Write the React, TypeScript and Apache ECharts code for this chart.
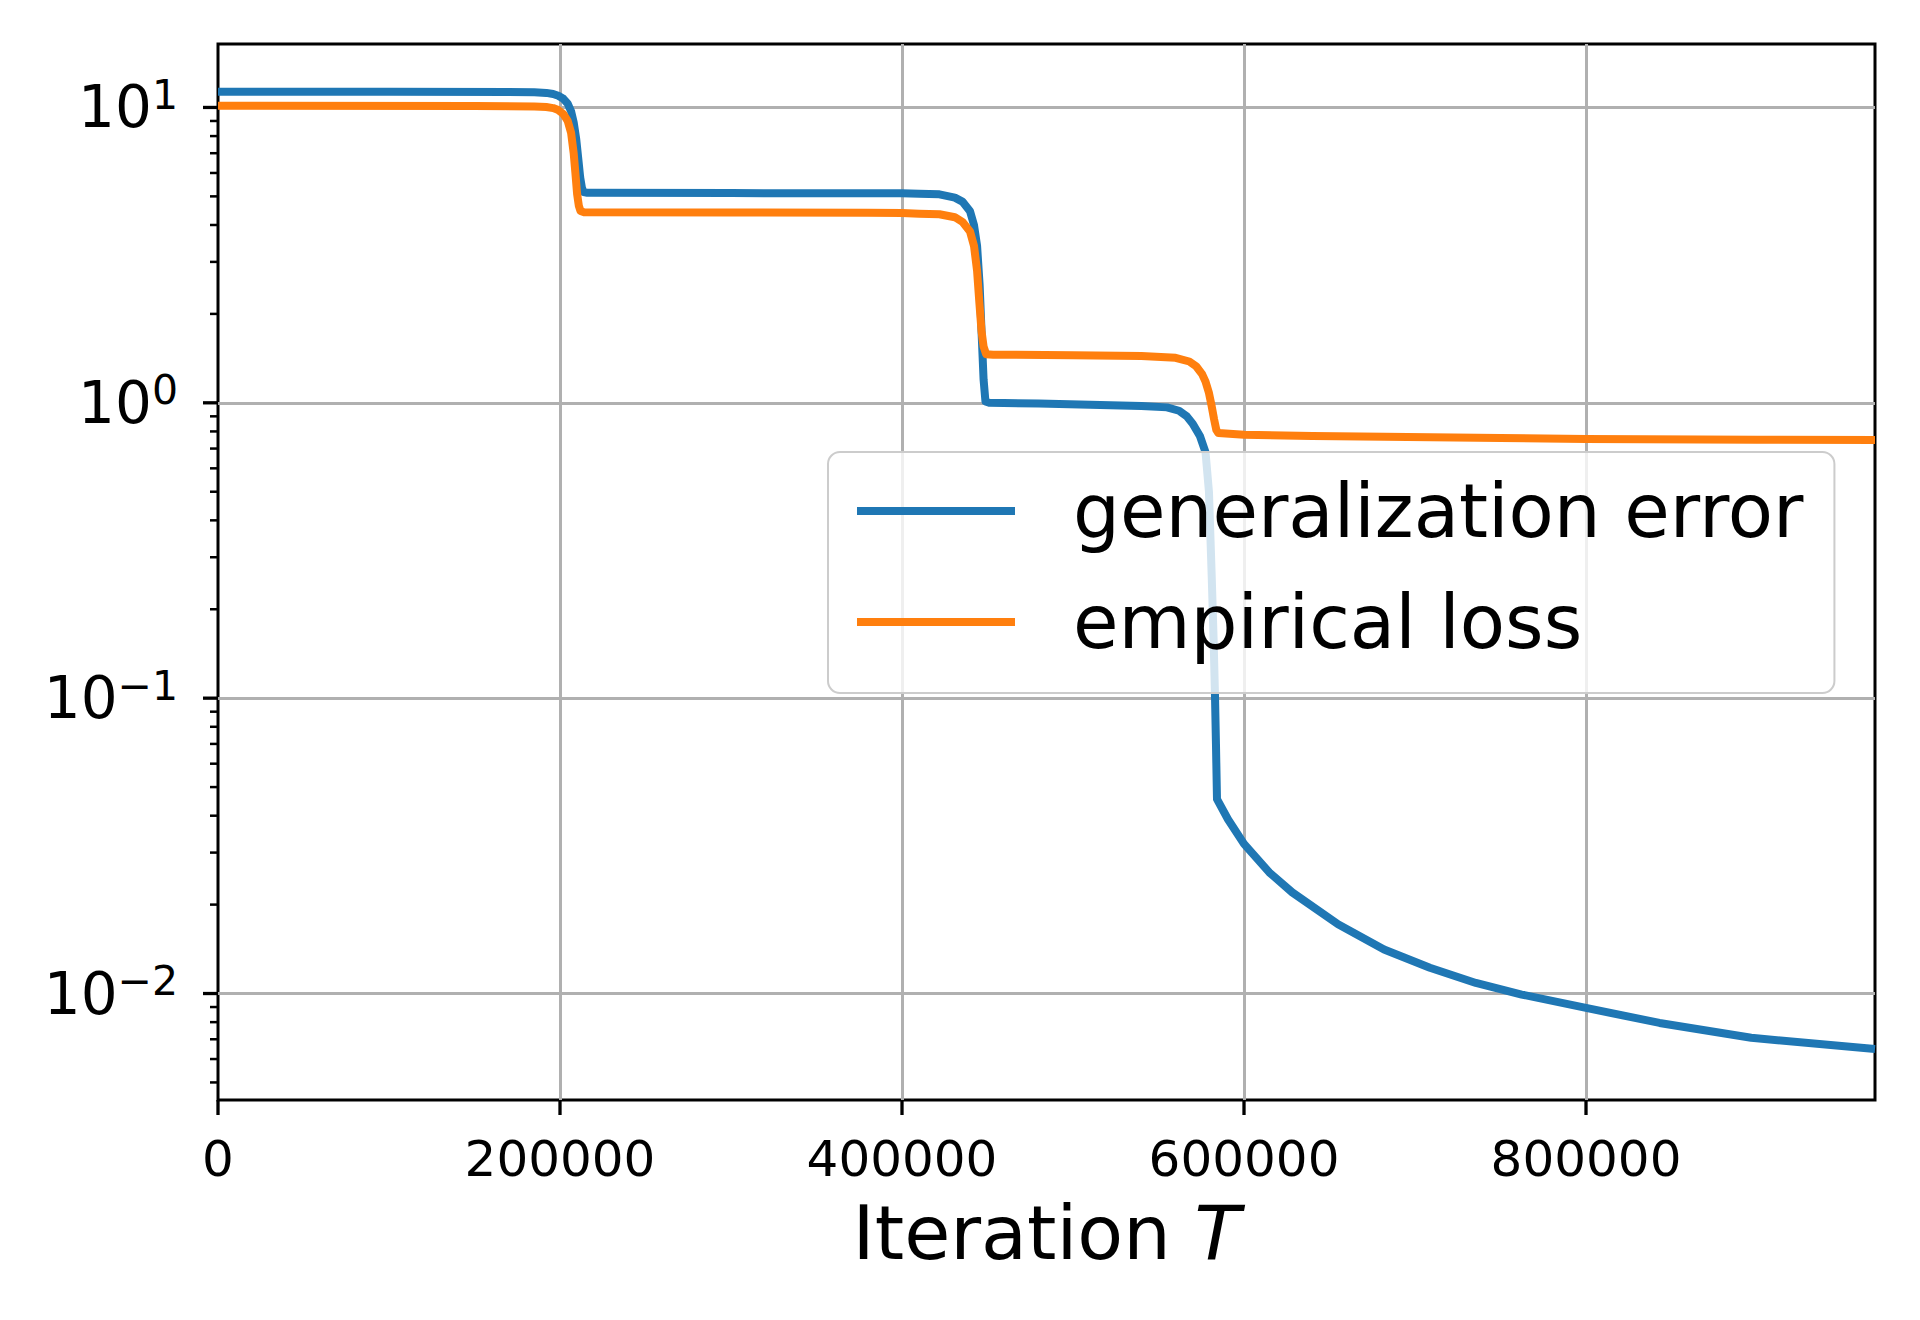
import React, { useEffect, useRef } from "react";
import * as echarts from "echarts";

const FONT = "DejaVu Sans";

const xTickValues = [0, 200000, 400000, 600000, 800000];
const yMajorTicks = [0.01, 0.1, 1, 10];
const yMinorTicks = [
  0.005, 0.006, 0.007, 0.008, 0.009,
  0.02, 0.03, 0.04, 0.05, 0.06, 0.07, 0.08, 0.09,
  0.2, 0.3, 0.4, 0.5, 0.6, 0.7, 0.8, 0.9,
  2, 3, 4, 5, 6, 7, 8, 9,
];
const X_MAX = 969000;
const Y_MIN = 0.00436;
const Y_MAX = 16.4;

const genErrT = [
  0, 100000, 170000, 185000, 192000, 196000, 199000, 202000, 204500, 206500,
  208000, 209500, 210800, 211800, 212800, 213800, 216000, 300000, 380000, 400000,
  410000, 421900, 430900, 435300, 439800, 442100, 443900, 445400, 446500, 447700,
  448800, 451000, 480000, 510000, 540000, 555000, 562000, 566500, 570000, 574300,
  577500, 579500, 581100, 582200, 583000, 583600, 584200, 590600, 600000, 614800,
  628200, 655000, 681900, 708700, 735600, 762400, 800000, 843000, 896600, 969000,
];
const genErrValues = [
  11.3, 11.3, 11.28, 11.25, 11.2, 11.1, 10.95, 10.7, 10.3, 9.7,
  8.9, 7.8, 6.6, 5.8, 5.35, 5.17, 5.14, 5.13, 5.12, 5.12,
  5.1, 5.08, 4.95, 4.8, 4.45, 4.0, 3.4, 2.5, 1.75, 1.2,
  1.01, 1.0, 0.995, 0.985, 0.975, 0.965, 0.94, 0.9, 0.85, 0.77,
  0.68, 0.5, 0.26, 0.16, 0.104, 0.07, 0.0455, 0.0389, 0.0321, 0.0257,
  0.022, 0.01715, 0.0141, 0.01222, 0.01086, 0.00992, 0.00894, 0.00795, 0.00708, 0.00649,
];

const empLossT = [
  0, 150000, 185000, 192000, 196000, 199000, 202000, 204500, 206500, 208000,
  209000, 210000, 211000, 212000, 214000, 300000, 380000, 400000, 410000, 421900,
  430900, 435300, 439800, 442100, 443900, 445200, 446500, 447700, 449200, 453300,
  500000, 540000, 560000, 568000, 572000, 575500, 577500, 579500, 581000, 582500,
  583800, 585000, 600000, 640000, 682000, 750000, 800000, 900000, 969000,
];
const empLossValues = [
  10.14, 10.12, 10.08, 10.03, 9.95, 9.8, 9.5, 9.0, 8.2, 7.0,
  6.0, 5.1, 4.65, 4.46, 4.42, 4.41, 4.4, 4.39, 4.37, 4.35,
  4.25, 4.1, 3.8, 3.4, 2.8, 2.2, 1.75, 1.55, 1.46, 1.455,
  1.45, 1.44, 1.42, 1.38, 1.33, 1.25, 1.18, 1.08, 0.98, 0.88,
  0.81, 0.79, 0.78, 0.772, 0.768, 0.76, 0.754, 0.75, 0.748,
];

const seriesNames = ["generalization error", "empirical loss"];
const colors = ["#1f77b4", "#ff7f0e"];

export default function App() {
  const ref = useRef<HTMLDivElement>(null);

  useEffect(() => {
    if (!ref.current) return;
    const chart = echarts.init(ref.current, null, { renderer: "svg" });

    const tickData: number[][] = [];
    xTickValues.forEach((t) => tickData.push([t, Y_MIN, 0]));
    yMajorTicks.forEach((v) => tickData.push([0, v, 1]));
    yMinorTicks.forEach((v) => tickData.push([0, v, 2]));

    const option: any = {
      animation: false,
      backgroundColor: "#ffffff",
      grid: {
        left: 218,
        top: 44,
        width: 1657,
        height: 1056,
        show: true,
        borderColor: "#000000",
        borderWidth: 3,
        backgroundColor: "transparent",
        containLabel: false,
      },
      xAxis: {
        type: "value",
        min: 0,
        max: X_MAX,
        interval: 200000,
        name: "{a|Iteration }{b|T}",
        nameLocation: "middle",
        nameGap: 95,
        nameTextStyle: {
          rich: {
            a: { fontSize: 75, fontFamily: FONT, color: "#000" },
            b: { fontSize: 75, fontFamily: FONT, color: "#000", fontStyle: "italic" },
          },
        },
        axisLine: { show: false },
        axisTick: { show: false },
        axisLabel: {
          formatter: (v: number) =>
            xTickValues.indexOf(v) >= 0 ? String(v) : "",
          fontSize: 50,
          fontFamily: FONT,
          color: "#000",
          margin: 34,
        },
        splitLine: {
          show: true,
          showMinLine: false,
          showMaxLine: false,
          lineStyle: { color: "#b0b0b0", width: 3 },
        },
      },
      yAxis: {
        type: "log",
        logBase: 10,
        min: Y_MIN,
        max: Y_MAX,
        axisLine: { show: false },
        axisTick: { show: false },
        axisLabel: {
          margin: 40,
          formatter: (v: number) => {
            const e = Math.log10(v);
            const r = Math.round(e);
            if (Math.abs(e - r) > 1e-6) return "";
            const exp = r < 0 ? "\u2212" + Math.abs(r) : String(r);
            return "{b|10}{s|" + exp + "}";
          },
          rich: {
            b: { fontSize: 58, lineHeight: 66, fontFamily: FONT, color: "#000", verticalAlign: "middle" },
            s: { fontSize: 41, lineHeight: 34, fontFamily: FONT, color: "#000", verticalAlign: "top" },
          },
        },
        splitLine: {
          show: true,
          showMinLine: false,
          showMaxLine: false,
          lineStyle: { color: "#b0b0b0", width: 3 },
        },
      },
      legend: {
        orient: "vertical",
        left: 828,
        top: 452,
        padding: [14, 31, 26, 25],
        itemWidth: 158,
        itemHeight: 90,
        itemGap: 21,
        backgroundColor: "rgba(255,255,255,0.8)",
        borderColor: "#cccccc",
        borderWidth: 2,
        borderRadius: 12,
        selectedMode: false,
        itemStyle: { opacity: 0 },
        lineStyle: { width: 8, opacity: 1 },
        textStyle: {
          fontFamily: FONT,
          fontSize: 74,
          lineHeight: 90,
          color: "#000",
          padding: [0, 0, 0, 53],
        },
        data: seriesNames,
      },
      series: [
        {
          name: seriesNames[0],
          type: "line",
          data: genErrT.map((t, i) => [t, genErrValues[i]]),
          symbol: "none",
          color: colors[0],
          lineStyle: { width: 8, color: colors[0], join: "round" },
        },
        {
          name: seriesNames[1],
          type: "line",
          data: empLossT.map((t, i) => [t, empLossValues[i]]),
          symbol: "none",
          color: colors[1],
          lineStyle: { width: 8, color: colors[1], join: "round" },
        },
        {
          name: "ticks",
          type: "custom",
          clip: false,
          silent: true,
          z: 5,
          data: tickData,
          encode: { x: 0, y: 1 },
          renderItem: (params: any, api: any) => {
            const kind = api.value(2);
            const p = api.coord([api.value(0), api.value(1)]);
            let shape;
            if (kind === 0) shape = { x1: p[0], y1: p[1], x2: p[0], y2: p[1] + 15 };
            else if (kind === 1) shape = { x1: p[0] - 15, y1: p[1], x2: p[0], y2: p[1] };
            else shape = { x1: p[0] - 8, y1: p[1], x2: p[0], y2: p[1] };
            return {
              type: "line",
              shape,
              style: { stroke: "#000", lineWidth: kind === 2 ? 2.5 : 3.3 },
            };
          },
        },
      ],
    };

    chart.setOption(option);
    return () => chart.dispose();
  }, []);

  return (
    <div
      ref={ref}
      style={{ position: "fixed", left: 0, top: 0, width: 1920, height: 1320, background: "#fff" }}
    />
  );
}
